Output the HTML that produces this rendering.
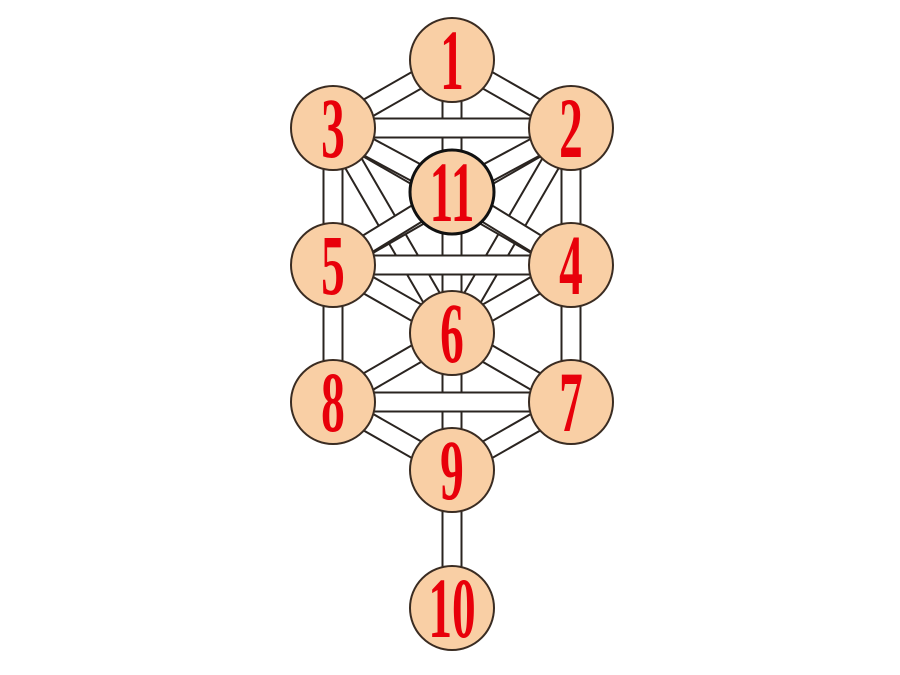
<!DOCTYPE html>
<html><head><style>body{margin:0;background:#fff}svg{display:block}
.c{stroke:#2a2420;stroke-width:21}.w{stroke:#fff;stroke-width:17}</style></head>
<body>
<svg width="900" height="675" viewBox="0 0 900 675" xmlns="http://www.w3.org/2000/svg">
<defs>
<line id="p1" x1="452" y1="60" x2="452" y2="470"/>
<line id="p2" x1="452" y1="470" x2="452" y2="608"/>
<line id="p3" x1="333" y1="128" x2="333" y2="402"/>
<line id="p4" x1="571" y1="128" x2="571" y2="402"/>
<line id="p5" x1="333" y1="128" x2="452" y2="333"/>
<line id="p6" x1="571" y1="128" x2="452" y2="333"/>
<line id="p7" x1="333" y1="128" x2="571" y2="265"/>
<line id="p8" x1="571" y1="128" x2="333" y2="265"/>
<line id="p9" x1="333" y1="128" x2="452" y2="192"/>
<line id="p10" x1="571" y1="128" x2="452" y2="192"/>
<line id="p11" x1="333" y1="265" x2="452" y2="192"/>
<line id="p12" x1="571" y1="265" x2="452" y2="192"/>
<line id="p13" x1="333" y1="265" x2="452" y2="333"/>
<line id="p14" x1="571" y1="265" x2="452" y2="333"/>
<line id="p15" x1="333" y1="402" x2="452" y2="333"/>
<line id="p16" x1="571" y1="402" x2="452" y2="333"/>
<line id="p17" x1="333" y1="402" x2="452" y2="470"/>
<line id="p18" x1="571" y1="402" x2="452" y2="470"/>
<line id="p19" x1="452" y1="60" x2="333" y2="128"/>
<line id="p20" x1="452" y1="60" x2="571" y2="128"/>
<line id="p21" x1="333" y1="128" x2="571" y2="128"/>
<line id="p22" x1="333" y1="265" x2="571" y2="265"/>
<line id="p23" x1="333" y1="402" x2="571" y2="402"/>
</defs>
<use href="#p1" class="c"/><use href="#p1" class="w"/>
<use href="#p2" class="c"/><use href="#p2" class="w"/>
<use href="#p3" class="c"/><use href="#p3" class="w"/>
<use href="#p4" class="c"/><use href="#p4" class="w"/>
<use href="#p5" class="c"/><use href="#p5" class="w"/>
<use href="#p6" class="c"/><use href="#p6" class="w"/>
<use href="#p7" class="c"/><use href="#p7" class="w"/>
<use href="#p8" class="c"/><use href="#p8" class="w"/>
<use href="#p9" class="c"/><use href="#p9" class="w"/>
<use href="#p10" class="c"/><use href="#p10" class="w"/>
<use href="#p11" class="c"/><use href="#p11" class="w"/>
<use href="#p12" class="c"/><use href="#p12" class="w"/>
<use href="#p13" class="c"/><use href="#p13" class="w"/>
<use href="#p14" class="c"/><use href="#p14" class="w"/>
<use href="#p15" class="c"/><use href="#p15" class="w"/>
<use href="#p16" class="c"/><use href="#p16" class="w"/>
<use href="#p17" class="c"/><use href="#p17" class="w"/>
<use href="#p18" class="c"/><use href="#p18" class="w"/>
<use href="#p19" class="c"/><use href="#p19" class="w"/>
<use href="#p20" class="c"/><use href="#p20" class="w"/>
<use href="#p21" class="c"/><use href="#p21" class="w"/>
<use href="#p22" class="c"/><use href="#p22" class="w"/>
<use href="#p23" class="c"/><use href="#p23" class="w"/>
<g fill="#f9cfa5" stroke="#3a2c22" stroke-width="2">
<circle cx="452" cy="60" r="42"/><circle cx="333" cy="128" r="42"/><circle cx="571" cy="128" r="42"/>
<circle cx="452" cy="192" r="42" stroke-width="3" stroke="#111"/>
<circle cx="333" cy="265" r="42"/><circle cx="571" cy="265" r="42"/>
<circle cx="452" cy="333" r="42"/><circle cx="333" cy="402" r="42"/><circle cx="571" cy="402" r="42"/>
<circle cx="452" cy="470" r="42"/><circle cx="452" cy="608" r="42"/>
</g>
<g fill="#e8000a" font-family="Liberation Serif, serif" font-weight="bold" font-size="86" text-anchor="middle">
<text transform="translate(452,89) scale(0.55,1)">1</text>
<text transform="translate(333,157) scale(0.55,1)">3</text>
<text transform="translate(571,157) scale(0.55,1)">2</text>
<text transform="translate(452,221) scale(0.55,1)">11</text>
<text transform="translate(333,294) scale(0.55,1)">5</text>
<text transform="translate(571,294) scale(0.55,1)">4</text>
<text transform="translate(452,362) scale(0.55,1)">6</text>
<text transform="translate(333,431) scale(0.55,1)">8</text>
<text transform="translate(571,431) scale(0.55,1)">7</text>
<text transform="translate(452,499) scale(0.55,1)">9</text>
<text transform="translate(452,637) scale(0.55,1)">10</text>
</g>
</svg>
</body></html>
